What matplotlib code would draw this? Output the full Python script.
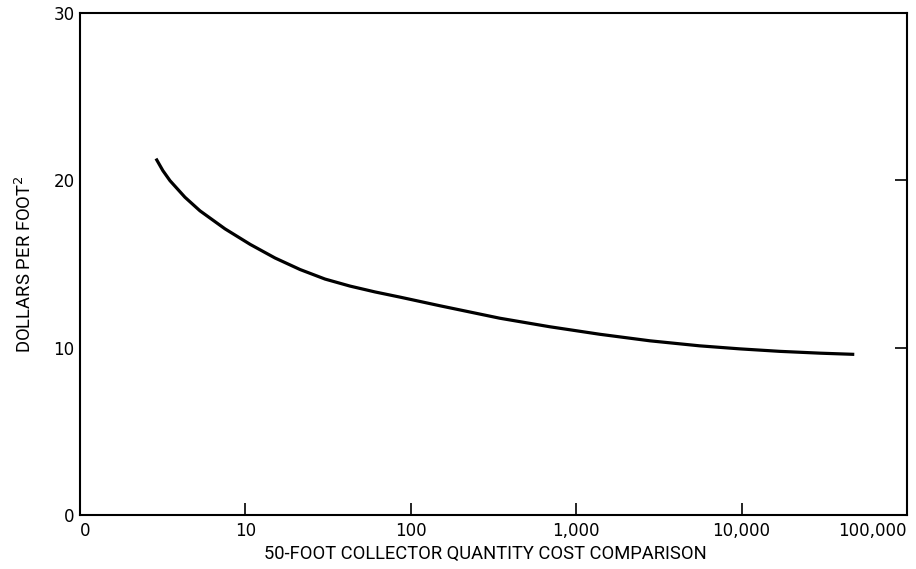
import matplotlib
matplotlib.use("Agg")
import matplotlib.pyplot as plt
from matplotlib.ticker import FixedLocator, FixedFormatter

quantity = [2.88, 3.17, 3.5, 4.31, 5.31, 7.53, 10.7, 15.1, 21.4, 30.3, 42.9, 60.8, 86.1,
            149, 345, 692, 1390, 2790, 5570, 9700, 17000, 30000, 48000]
dollars_per_ft2 = [21.3, 20.58, 19.98, 18.99, 18.18, 17.1, 16.17, 15.36, 14.67, 14.1,
                   13.68, 13.33, 13.02, 12.51, 11.76, 11.25, 10.8, 10.41, 10.11, 9.93,
                   9.78, 9.67, 9.6]

x_ticks = [1, 10, 100, 1000, 10000, 100000]
x_tick_labels = ["0", "10", "100", "1,000", "10,000", "100,000"]
y_ticks = [0, 10, 20, 30]
y_tick_labels = ["0", "10", "20", "30"]

plt.rcParams['font.family'] = ['DejaVu Sans']

fig = plt.figure(figsize=(9.16, 5.69), dpi=100)
ax = fig.add_axes([80/916, 54/569, 827/916, 502/569])

ax.plot(quantity, dollars_per_ft2, color='black', linewidth=2.3,
        solid_capstyle='butt', solid_joinstyle='round')

ax.set_xscale('log')
ax.set_xlim(1, 100000)
ax.set_ylim(0, 30)
ax.xaxis.set_major_locator(FixedLocator(x_ticks))
ax.xaxis.set_major_formatter(FixedFormatter(x_tick_labels))
ax.xaxis.set_minor_locator(FixedLocator([]))
ax.yaxis.set_major_locator(FixedLocator(y_ticks))
ax.yaxis.set_major_formatter(FixedFormatter(y_tick_labels))

ax.tick_params(axis='x', direction='in', length=9, width=1.2, labelsize=12, pad=5, top=False)
ax.tick_params(axis='y', direction='in', length=9, width=1.2, labelsize=12, pad=4,
               left=False, right=True, labelleft=True)
labels = ax.get_xticklabels()
labels[-1].set_horizontalalignment('right')
labels[0].set_horizontalalignment('left')

for s in ax.spines.values():
    s.set_linewidth(1.5)

ax.set_xlabel("50-FOOT COLLECTOR QUANTITY COST COMPARISON", fontsize=13.2,
              family=['Roboto', 'DejaVu Sans'])
ax.xaxis.set_label_coords(0.49, -0.06)
ax.set_ylabel("DOLLARS PER FOOT$^2$", fontsize=13.3,
              family=['Roboto', 'DejaVu Sans'], labelpad=13)

fig.savefig("out.png", dpi=100)
